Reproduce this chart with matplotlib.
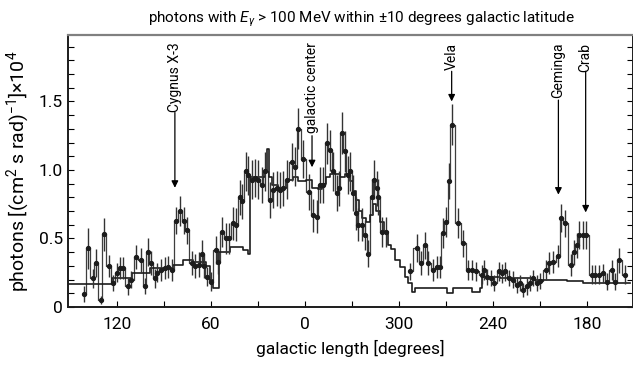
import numpy as np
import matplotlib
matplotlib.use("Agg")
import matplotlib.pyplot as plt

plt.rcParams["font.family"] = ["Roboto", "DejaVu Sans"]
plt.rcParams["mathtext.fontset"] = "custom"
plt.rcParams["mathtext.rm"] = "Roboto"
plt.rcParams["mathtext.it"] = "Roboto:italic"

# measured photon rates (galactic longitude in degrees, 0..360)
data_lon = [141.2, 138.5, 135.3, 133.4, 130.2, 128.5, 125.3, 122.5, 120.0, 118.3,
            116.1, 113.0, 111.0, 107.8, 104.8, 102.3, 100.2, 98.3, 95.9, 94.4,
            92.1, 89.5, 87.4, 84.9, 82.3, 79.8, 77.5, 75.3, 72.3, 70.2,
            67.6, 65.9, 64.5, 62.5, 60.0, 56.8, 55.2, 53.0, 50.7, 48.2,
            45.9, 44.0, 41.5, 40.2, 37.7, 36.1, 34.0, 31.9, 29.8, 27.6,
            25.5, 22.3, 20.2, 18.1, 16.0, 13.8, 11.3, 8.5, 6.4, 4.3,
            1.1, 357.4, 354.7, 352.5, 350.4, 348.3, 346.2, 344.0, 341.9, 339.8,
            338.3, 336.6, 334.5, 332.8, 331.3, 329.2, 327.5, 326.0, 323.8, 321.7,
            319.6, 317.4, 315.8, 314.2, 313.2, 310.7, 308.5,
            293.0, 288.7, 286.2, 283.4, 281.3, 278.5, 276.0, 273.8, 272.1, 270.0,
            268.1, 266.4, 262.2, 259.0, 255.8, 253.2, 251.1, 247.2, 245.6, 244.0,
            241.3, 239.2, 236.2, 234.1, 232.4, 229.6, 227.5, 224.9, 222.8, 220.7,
            218.5, 216.4, 214.3, 212.1, 210.0, 206.2, 204.1, 201.5, 198.4, 196.6,
            194.1, 190.4, 188.3, 186.6, 185.0, 182.8, 180.7, 177.0, 174.9, 172.2,
            169.6, 167.5, 164.3, 162.2, 159.6, 155.8]
data_val = [0.095, 0.43, 0.21, 0.32, 0.05, 0.53, 0.30, 0.175, 0.25, 0.285,
            0.285, 0.15, 0.20, 0.365, 0.34, 0.155, 0.40, 0.32, 0.21, 0.25,
            0.27, 0.285, 0.295, 0.27, 0.63, 0.70, 0.63, 0.56, 0.32, 0.30,
            0.31, 0.39, 0.30, 0.22, 0.185, 0.415, 0.33, 0.55, 0.50, 0.50,
            0.61, 0.60, 0.80, 0.77, 0.99, 0.96, 0.93, 0.94, 0.93, 0.89,
            0.99, 0.78, 0.855, 0.865, 0.855, 0.865, 0.93, 1.06, 1.025, 1.30,
            1.08, 0.84, 0.67, 0.66, 0.89, 0.89, 1.195, 1.145, 0.99, 0.83,
            0.865, 1.27, 1.135, 0.965, 0.99, 0.83, 0.685, 0.60, 0.60, 0.525,
            0.39, 0.805, 0.93, 0.865, 0.805, 0.55, 0.55,
            0.26, 0.43, 0.32, 0.45, 0.32, 0.27, 0.295, 0.295, 0.54, 0.62,
            0.92, 1.33, 0.61, 0.465, 0.27, 0.27, 0.26, 0.235, 0.27, 0.22,
            0.21, 0.175, 0.26, 0.245, 0.26, 0.21, 0.20, 0.16, 0.175, 0.125,
            0.15, 0.175, 0.21, 0.175, 0.19, 0.27, 0.32, 0.33, 0.37, 0.65,
            0.61, 0.305, 0.40, 0.45, 0.525, 0.525, 0.525, 0.235, 0.235, 0.235,
            0.245, 0.185, 0.27, 0.185, 0.34, 0.235]
data_err = [0.06, 0.15, 0.07, 0.10, 0.03, 0.12, 0.08, 0.06, 0.07, 0.08,
            0.08, 0.06, 0.06, 0.09, 0.09, 0.06, 0.10, 0.09, 0.07, 0.07,
            0.08, 0.08, 0.08, 0.08, 0.10, 0.11, 0.10, 0.10, 0.09, 0.09,
            0.09, 0.10, 0.09, 0.07, 0.07, 0.10, 0.09, 0.11, 0.11, 0.11,
            0.12, 0.12, 0.13, 0.13, 0.14, 0.14, 0.14, 0.14, 0.14, 0.13,
            0.14, 0.13, 0.13, 0.13, 0.13, 0.13, 0.14, 0.14, 0.14, 0.15,
            0.14, 0.13, 0.12, 0.12, 0.13, 0.13, 0.15, 0.15, 0.14, 0.13,
            0.13, 0.15, 0.15, 0.14, 0.14, 0.13, 0.12, 0.12, 0.12, 0.11,
            0.10, 0.13, 0.14, 0.13, 0.13, 0.11, 0.11,
            0.06, 0.10, 0.09, 0.10, 0.09, 0.08, 0.08, 0.08, 0.11, 0.11,
            0.13, 0.15, 0.11, 0.10, 0.07, 0.07, 0.07, 0.07, 0.07, 0.06,
            0.06, 0.06, 0.07, 0.07, 0.07, 0.06, 0.06, 0.06, 0.06, 0.05,
            0.06, 0.06, 0.06, 0.06, 0.06, 0.07, 0.08, 0.08, 0.08, 0.10,
            0.10, 0.08, 0.09, 0.09, 0.10, 0.10, 0.10, 0.07, 0.07, 0.07,
            0.07, 0.06, 0.07, 0.06, 0.09, 0.07]

# model prediction (step curve)
model_lon = [151.2, 123.2, 110.4, 98.9, 84.2, 77.9, 71.5, 63.2, 60.6, 58.7,
             54.9, 47.9, 42.8, 39.6, 36.4, 35.1, 28.7, 25.5, 24.3, 22.7,
             21.1, 17.2, 11.5, 7.7, 4.5, 359.4, 355.5, 351.7, 349.2, 346.6,
             344.0, 337.7, 334.5, 331.3, 329.4, 327.5, 325.5, 323.6, 321.1, 318.5,
             316.6, 314.7, 312.1, 309.6, 307.0, 305.1, 302.6, 299.4, 296.2, 294.3,
             291.9, 289.8, 278.3, 269.6, 265.6, 256.8, 253.6, 248.3, 247.2, 235.6,
             214.5, 201.7, 192.8, 182.6, 152.6]
model_val = [0.17, 0.21, 0.25, 0.285, 0.31, 0.34, 0.33, 0.30, 0.20, 0.14,
             0.40, 0.44, 0.44, 0.415, 0.39, 0.95, 0.95, 1.0, 1.15, 0.95,
             0.89, 0.865, 0.93, 0.95, 0.92, 0.93, 0.87, 0.86, 0.90, 0.95,
             0.97, 0.95, 0.97, 0.92, 0.85, 0.78, 0.70, 0.65, 0.62, 0.67,
             0.75, 0.70, 0.62, 0.55, 0.45, 0.42, 0.34, 0.29, 0.22, 0.175,
             0.11, 0.14, 0.14, 0.10, 0.14, 0.14, 0.11, 0.14, 0.22, 0.21,
             0.20, 0.20, 0.19, 0.175, 0.175]

# labelled sources: name, longitude, arrow tip, arrow tail
src_name = ["Cygnus X-3", "galactic center", "Vela", "Geminga", "Crab"]
src_lon = [83.0, 355.5, 266.4, 198.3, 180.9]
src_tip = [0.87, 1.02, 1.50, 0.82, 0.69]
src_tail = [1.42, 1.25, 1.72, 1.51, 1.72]

tick_lon = [120, 60, 0, 300, 240, 180]
minor_lon = [90, 30, 330, 270, 210]


def wrap(lon):
    # the plot runs from l=151 on the left through 0 to l=152 on the right
    lon = np.asarray(lon, dtype=float)
    return np.where(lon > 152, lon - 360, lon)


x = wrap(data_lon)
y = np.array(data_val)
xm = wrap(model_lon)

fig = plt.figure(figsize=(6.33, 3.69), dpi=100)
ax = fig.add_axes([68 / 633, 62 / 369, 565 / 633, 272 / 369])

ink = "#1c1c1c"

# data as step histogram, broken where there are gaps
brk = np.where(np.abs(np.diff(x)) > 6)[0] + 1
for xs, ys in zip(np.split(x, brk), np.split(y, brk)):
    ax.step(xs, ys, where="mid", color=ink, lw=0.9, alpha=0.85)
ax.errorbar(x, y, yerr=data_err, fmt="o", ms=2.8, color=ink, ecolor="#333333",
            elinewidth=1.0, capsize=0, zorder=3)

ax.step(xm, model_val, where="post", color=ink, lw=1.2)

for name, lon, tip, tail in zip(src_name, src_lon, src_tip, src_tail):
    xs = float(wrap(lon))
    ax.annotate("", xy=(xs, tip), xytext=(xs, tail),
                arrowprops=dict(arrowstyle="-|>", color="black", lw=0.9,
                                mutation_scale=10, shrinkA=0, shrinkB=0))
    ax.text(xs, 1.93, name, rotation=90, ha="center", va="top", fontsize=10)

ax.set_xlim(151.2, -209.3)
ax.set_ylim(0, 1.985)
ax.set_xticks(wrap(tick_lon))
ax.set_xticklabels([str(t) for t in tick_lon])
ax.set_xticks(wrap(minor_lon), minor=True)
ax.set_yticks([0, 0.5, 1.0, 1.5])
ax.set_yticklabels(["0", "0.5", "1.0", "1.5"])
ax.set_yticks(np.arange(0.1, 1.95, 0.1), minor=True)
ax.tick_params(axis="both", which="both", direction="in", labelsize=12.5,
               length=4, width=0.8, right=True, top=False)
ax.tick_params(axis="x", which="major", pad=7)
ax.set_xlim(151.2, -209.3)

ax.spines["top"].set_color("#808080")
ax.spines["top"].set_linewidth(1.6)
for s in ["left", "bottom", "right"]:
    ax.spines[s].set_linewidth(1.4)
    ax.spines[s].set_color(ink)

ax.set_xlabel("galactic length [degrees]", fontsize=12.5, labelpad=6)
ax.set_ylabel(r"photons [(cm$^2$ s rad)$^{-1}$]$\times 10^4$", fontsize=14, labelpad=5)
ax.set_title(r"photons with $E_\gamma$ > 100 MeV within ±10 degrees galactic latitude",
             fontsize=11, pad=9, x=0.52)

fig.savefig("out.png", dpi=100)
